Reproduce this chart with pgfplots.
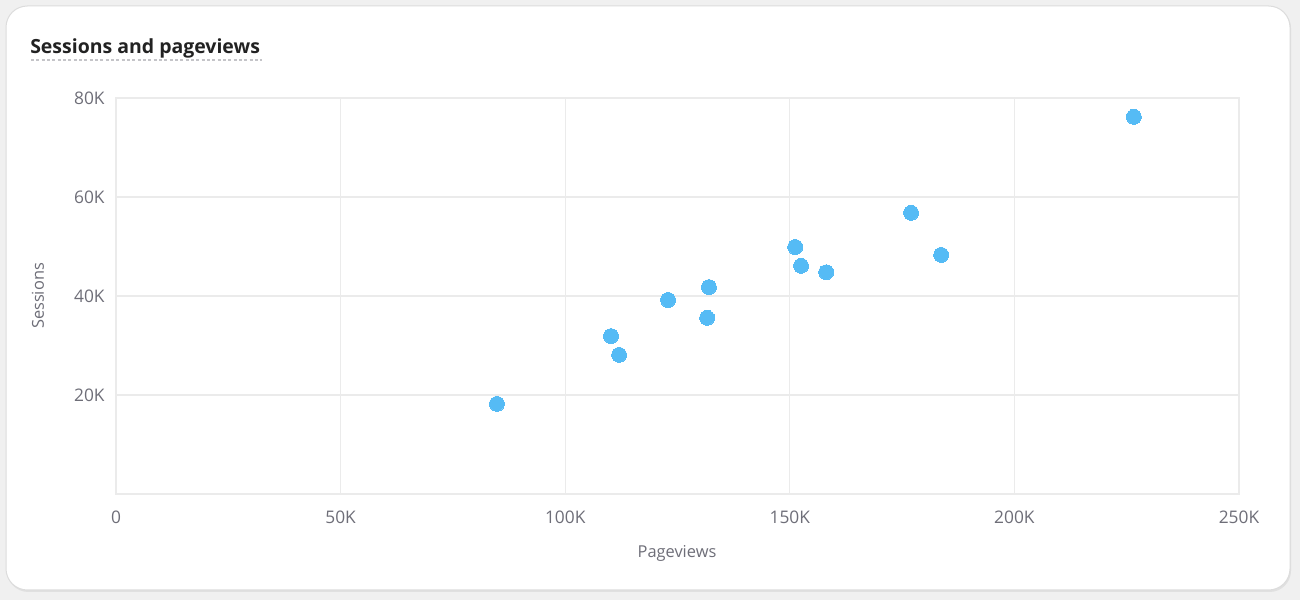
\documentclass[border=0pt]{standalone}
\usepackage{fontspec}
\setmainfont{Open Sans}
\usepackage{pgfplots}
\pgfplotsset{compat=1.18}
\definecolor{bgout}{HTML}{F0F0F0}
\definecolor{cardborder}{HTML}{DCDCDC}
\definecolor{gridc}{HTML}{EBEBEB}
\definecolor{tickc}{HTML}{6E6E78}
\definecolor{titlec}{HTML}{222222}
\definecolor{dotc}{HTML}{55BBF5}
\definecolor{underc}{HTML}{C4C4C8}
\begin{document}
\begin{tikzpicture}[x=0.75pt,y=0.75pt]
\useasboundingbox (0,0) rectangle (1300,600);
\fill[bgout] (0,0) rectangle (1300,600);
\fill[black!12,rounded corners=16] (7,8) rectangle (1291,593);
\draw[cardborder,fill=white,line width=0.75pt,rounded corners=16] (6,10) rectangle (1290,594);
\node[anchor=west,inner sep=0,text=titlec,font=\fontsize{14.6}{16}\selectfont\bfseries] at (30,552) {Sessions and pageviews};
\draw[underc,line width=2.2pt,dash pattern=on 2.2pt off 1.8pt] (31,540) -- (262,540);
\begin{axis}[
  at={(87pt,79.5pt)}, anchor=south west,
  scale only axis, width=842.25pt, height=297pt,
  xmin=0, xmax=250, ymin=0, ymax=80,
  xtick={0,50,100,150,200,250},
  xticklabels={0,50K,100K,150K,200K,250K},
  ytick={20,40,60,80},
  yticklabels={20K,40K,60K,80K},
  grid=major,
  major grid style={gridc,line width=0.9pt},
  axis line style={gridc,line width=1.2pt},
  tick style={draw=none},
  ticklabel style={text=tickc,font=\fontsize{13}{15}\selectfont},
  yticklabel style={xshift=-5pt},
  xticklabel style={yshift=-9pt},
  clip=false,
]
\addplot[only marks, color=dotc, mark=*, mark size=5.6pt, mark options={fill=dotc,draw=dotc,line width=0pt}] coordinates {
(84.8,18.2)
(110.2,31.9)
(112.0,28.1)
(122.9,39.2)
(131.6,35.6)
(132.0,41.8)
(151.2,49.9)
(152.5,46.1)
(158.1,44.8)
(177.0,56.8)
(183.7,48.3)
(226.6,76.2)
};
\end{axis}
\node[text=tickc,font=\fontsize{12.3}{14}\selectfont] at (677,47) {Pageviews};
\node[text=tickc,font=\fontsize{12.3}{14}\selectfont,rotate=90] at (38,304) {Sessions};
\end{tikzpicture}
\end{document}
